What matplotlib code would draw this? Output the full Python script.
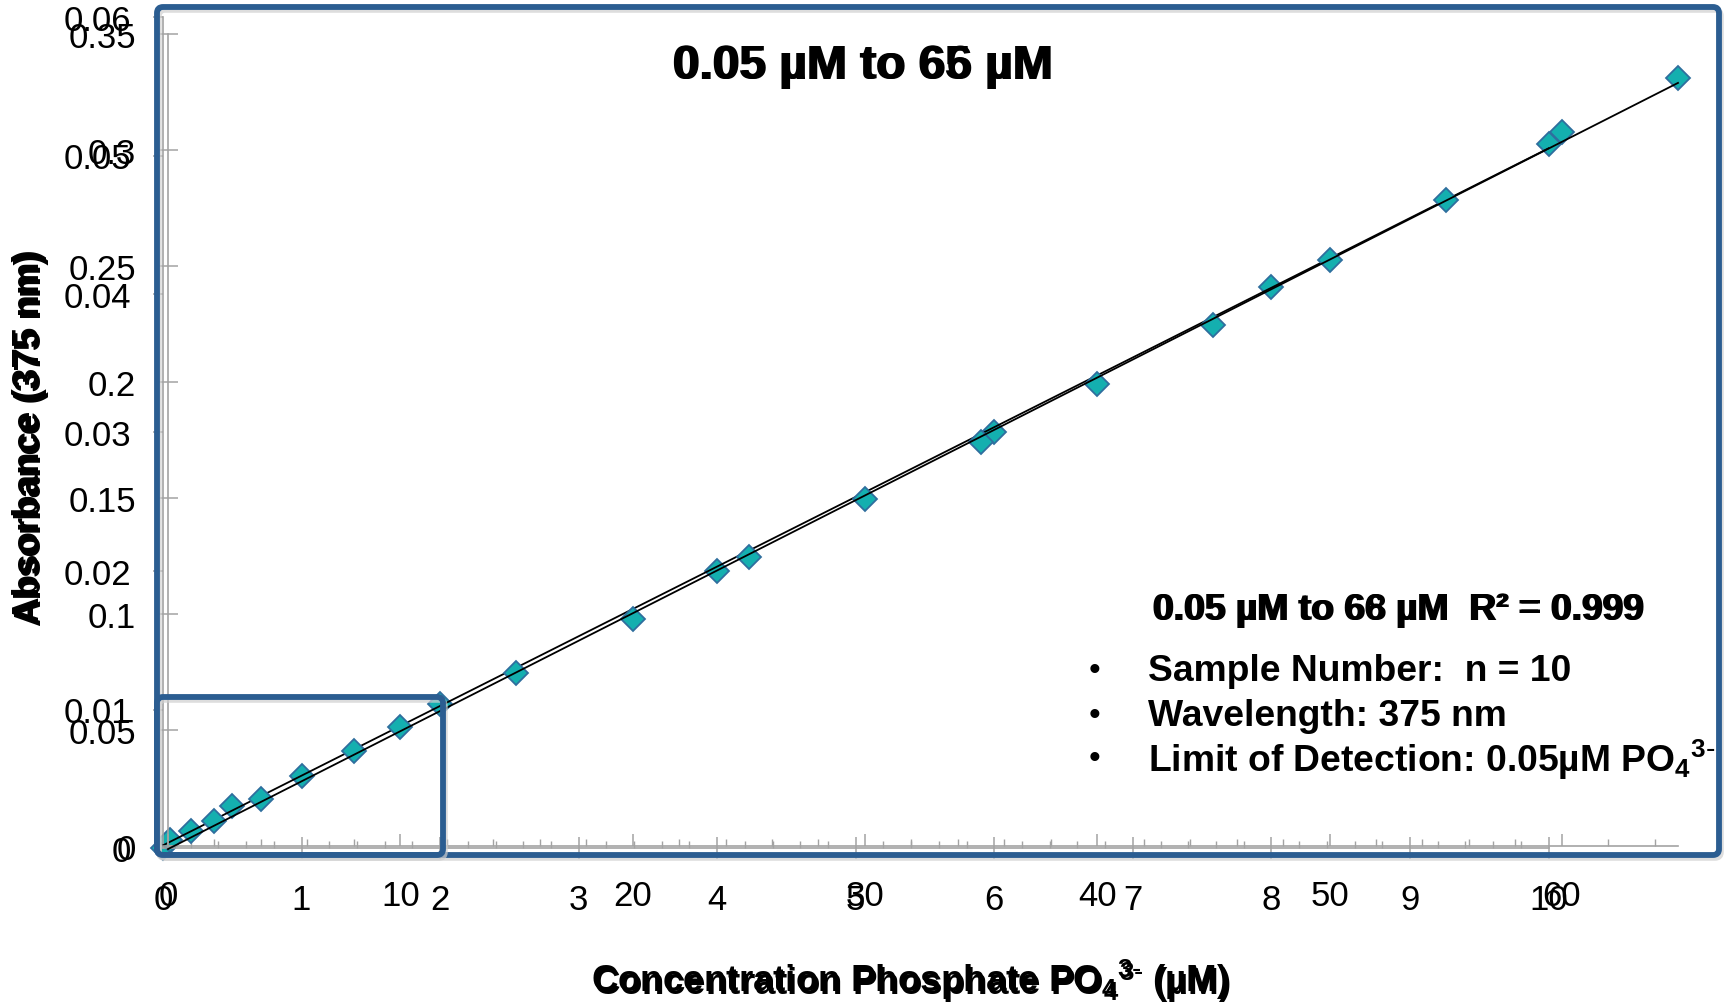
import numpy as np
import matplotlib
matplotlib.use("Agg")
import matplotlib.pyplot as plt
from matplotlib.ticker import MultipleLocator, FuncFormatter
from matplotlib.patches import FancyBboxPatch

plt.rcParams['font.family'] = ['Liberation Sans', 'DejaVu Sans']
plt.rcParams['mathtext.fontset'] = 'custom'
plt.rcParams['mathtext.default'] = 'regular'

# calibration 0.05 - 10 uM (small chart)
conc_low = [0, 0.05, 0.2, 0.5, 1, 2, 4, 6, 8, 10]
abs_low = [0.0, 0.0006, 0.0012, 0.0030, 0.0052, 0.0104, 0.0200, 0.0300, 0.0405, 0.0508]

# calibration up to 65 uM (large chart)
conc_high = [2, 4, 8, 10, 15, 20, 25, 30, 35, 40, 45, 50, 55, 60, 65]
abs_high = [0.0108, 0.0203, 0.0409, 0.0513, 0.0746, 0.0978, 0.1246, 0.1496,
            0.1741, 0.1991, 0.2246, 0.2526, 0.2784, 0.3078, 0.3310]

W, H = 1727, 1004
gray = '#a3a3a3'
blue = '#2b5d91'
teal = '#14afaf'
edge = '#2f6e9e'

fig = plt.figure(figsize=(W / 100, H / 100), dpi=100)
fig.patch.set_facecolor('white')


def box(l, t, r, b):
    return [l / W, 1 - b / H, (r - l) / W, (b - t) / H]


def fxy(x, y):
    return x / W, 1 - y / H


fmt = FuncFormatter(lambda v, p: '%g' % round(v, 4))

ax1 = fig.add_axes(box(163, 18, 1548.5, 849))
ax2 = fig.add_axes(box(168, 35, 1678, 847))

for ax in (ax1, ax2):
    ax.patch.set_visible(False)
    ax.spines['top'].set_visible(False)
    ax.spines['right'].set_visible(False)
    for s in ('left', 'bottom'):
        ax.spines[s].set_color(gray)
        ax.spines[s].set_linewidth(1.2)
    ax.xaxis.set_major_formatter(fmt)
    ax.yaxis.set_major_formatter(fmt)

ax1.set_xlim(0, 10)
ax1.set_ylim(0, 0.06)
ax1.xaxis.set_major_locator(MultipleLocator(1))
ax1.xaxis.set_minor_locator(MultipleLocator(0.2))
ax1.yaxis.set_major_locator(MultipleLocator(0.01))
ax1.tick_params(axis='y', direction='out', length=7, width=1.1, color=gray, pad=16, labelsize=25)
ax1.tick_params(axis='x', which='major', direction='inout', length=16, width=1.1, color=gray, pad=17, labelsize=25)
ax1.tick_params(axis='x', which='minor', direction='in', length=5, width=1.0, color=gray)

ax2.set_xlim(0, 65)
ax2.set_ylim(0, 0.35)
ax2.set_xticks(np.arange(0, 61, 10))
ax2.xaxis.set_minor_locator(MultipleLocator(2))
ax2.yaxis.set_major_locator(MultipleLocator(0.05))
ax2.tick_params(axis='y', direction='inout', length=14, width=1.1, color=gray, pad=16, labelsize=25)
ax2.tick_params(axis='x', which='major', direction='in', length=9, width=1.1, color=gray, pad=24, labelsize=25)
ax2.tick_params(axis='x', which='minor', direction='in', length=5, width=1.0, color=gray)

# points and linear trendlines
for ax, xs, ys, xmax in ((ax1, conc_low, abs_low, 10), (ax2, conc_high, abs_high, 65)):
    ax.plot(xs, ys, 'D', ms=12.5, mfc=teal, mec=edge, mew=1.3, zorder=2, clip_on=False)
    k, b0 = np.polyfit(xs, ys, 1)
    xl = np.array([0, xmax])
    ax.plot(xl, k * xl + b0, color='black', lw=1.3, zorder=3, clip_on=False)

# blue frames on top
deco = fig.add_axes([0, 0, 1, 1], zorder=5)
deco.set_xlim(0, W)
deco.set_ylim(H, 0)
deco.axis('off')
deco.patch.set_visible(False)
for (l, t, r, b) in ((157, 8, 1719, 856), (157, 698, 443, 856)):
    deco.add_patch(FancyBboxPatch((l + 2, t + 3), r - l, b - t, boxstyle='round,pad=0,rounding_size=6',
                                  fill=False, ec='#cfcfcf', lw=4, alpha=0.7, joinstyle='round'))
    deco.add_patch(FancyBboxPatch((l, t), r - l, b - t, boxstyle='round,pad=0,rounding_size=6',
                                  fill=False, ec=blue, lw=4.2, joinstyle='round'))

# titles (two overlapped charts)
for txt, dx in (('0.05 µM to 65 µM', 0), ('0.05 µM to 66 µM', 2)):
    fig.text(*fxy(862 + dx, 67), txt, fontsize=34.5, fontweight='bold', ha='center', va='center')

po4 = 'PO$_4$$^{3\\text{-}}$'
for dx, dy in ((0, 0), (1.5, 3)):
    fig.text(*fxy(30 + dx, 436 + dy), 'Absorbance (375 nm)', fontsize=26.5, fontweight='bold',
             rotation=90, ha='center', va='center')
    fig.text(*fxy(910 + dx, 980 + dy), 'Concentration Phosphate ' + po4 + ' (µM)', fontsize=26.5,
             fontweight='bold', ha='center', va='center')

for txt, dx in (('0.05 µM to 66 µM  R² = 0.999', 0), ('0.05 µM to 68 µM  R² = 0.999', 1.5)):
    fig.text(*fxy(1152 + dx, 611), txt, fontsize=26.8, fontweight='bold', ha='left', va='center')

bullets = ['Sample Number:  n = 10', 'Wavelength: 375 nm', 'Limit of Detection: 0.05µM ' + po4]
for i, t in enumerate(bullets):
    y = 672 + i * 44
    fig.text(*fxy(1094, y), '•', fontsize=24, ha='center', va='center')
    fig.text(*fxy(1148, y), t, fontsize=26.8, fontweight='bold', ha='left', va='center')

fig.savefig('out.png', dpi=100)
